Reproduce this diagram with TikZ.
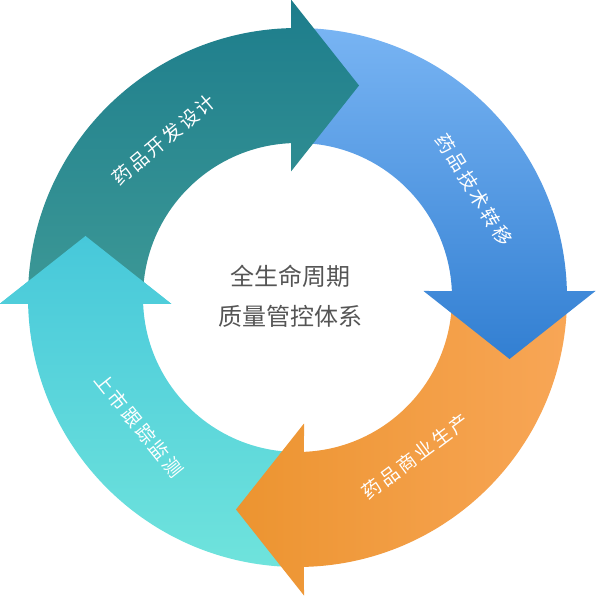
\documentclass[tikz,border=0pt]{standalone}
\usepackage{fontspec}
\usetikzlibrary{calc}
\newfontfamily\cjkfont{Noto Sans CJK SC}
\newfontfamily\cjkspaced[LetterSpace=14]{Noto Sans CJK SC}
\definecolor{dev-top}{HTML}{1D7D8C}
\definecolor{dev-bottom}{HTML}{3C9896}
\definecolor{tech-top}{HTML}{78B4F3}
\definecolor{tech-bottom}{HTML}{327FD2}
\definecolor{prod-left}{HTML}{EC9430}
\definecolor{prod-right}{HTML}{F8A656}
\definecolor{mon-top}{HTML}{47C8DA}
\definecolor{mon-bottom}{HTML}{6FE3DC}
\definecolor{core-color}{HTML}{555555}
\tikzset{
  dev/.style={top color=dev-top, bottom color=dev-bottom},
  tech/.style={top color=tech-top, bottom color=tech-bottom},
  prod/.style={left color=prod-left, right color=prod-right},
  mon/.style={top color=mon-top, bottom color=mon-bottom},
  phase/.style={text=white, inner sep=0pt, font=\cjkspaced\fontsize{19}{19}\selectfont},
  core/.style={text=core-color, align=center, font=\cjkfont\fontsize{24}{40}\selectfont}
}
\newcommand\ringin{154.5}
\newcommand\ringout{269.5}
\newcommand\headpath[1]{($(#1-90:298)+(#1:6.5)$) -- ($(#1-90:212)+(#1-180:61.5)$)
  -- ($(#1-90:126)+(#1:6.5)$)}
\newcommand\segpath[1]{(#1:\ringin) -- (#1:\ringout)
  arc[start angle=#1, end angle=#1-88.62, radius=\ringout] -- \headpath{#1}
  -- (#1-87.59:\ringin) arc[start angle=#1-87.59, end angle=#1, radius=\ringin] -- cycle}

\begin{document}
\begin{tikzpicture}[x=1pt, y=1pt]
  \useasboundingbox (-297.5,-298.5) rectangle (297.5,297.5);
  \shade[mon] \segpath{-90};
  \shade[prod] \segpath{0};
  \shade[tech] \segpath{90};
  \shade[dev] \segpath{180};
  \begin{scope}
    \clip \headpath{-90} -- cycle;
    \shade[mon] \segpath{-90};
  \end{scope}

  \node[phase, rotate=40] (dev-label) at (130.3:206.5) {药品开发设计};
  \node[phase, rotate=-58.7] (tech-label) at (31.3:206.7) {药品技术转移};
  \node[phase, rotate=36.6] (prod-label) at (-53.4:198) {药品商业生产};
  \node[phase, rotate=-51.1] (mon-label) at (218.9:203.7) {上市跟踪监测};
  \node[core] (core) at (-7.5,1) {全生命周期\\质量管控体系};
\end{tikzpicture}
\end{document}
